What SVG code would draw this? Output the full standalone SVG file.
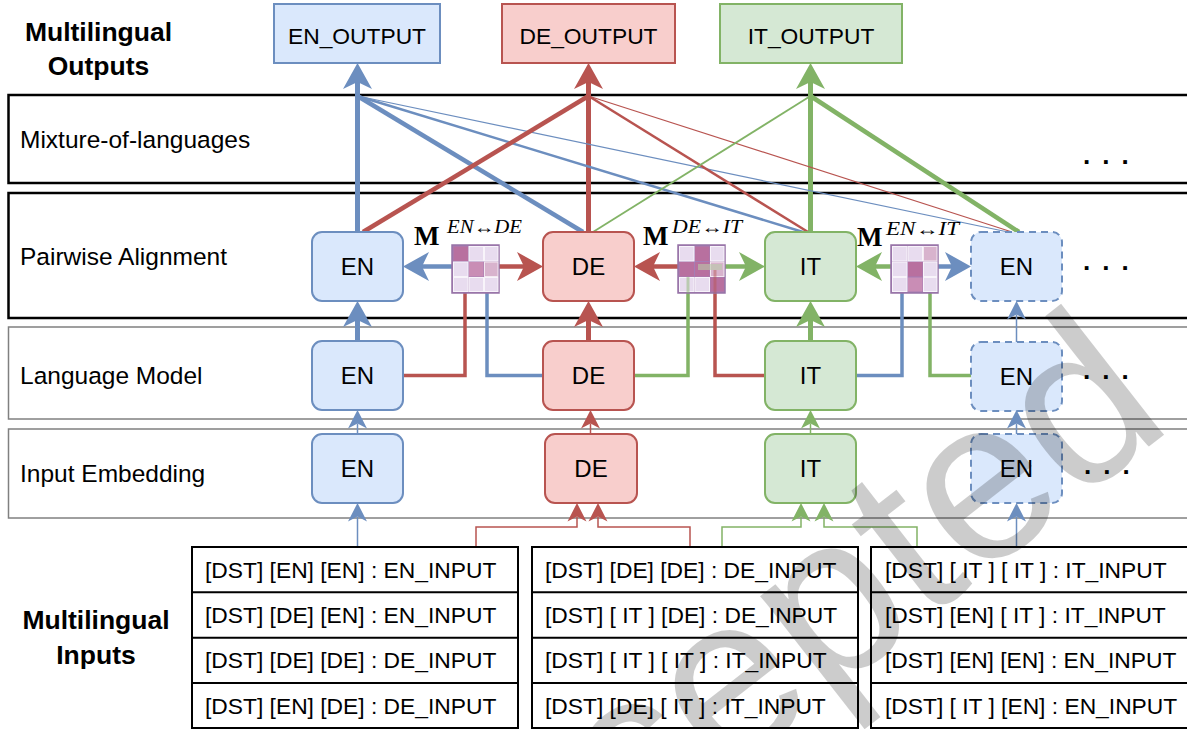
<svg xmlns="http://www.w3.org/2000/svg" width="1187" height="729" viewBox="0 0 1187 729">
<style>
text{font-family:"Liberation Sans",Arial,sans-serif;fill:#000}
.lbl{font-size:24.5px}
.ttl{font-size:26.5px;font-weight:bold;text-anchor:middle}
.nd{font-size:24px;text-anchor:middle}
.out{font-size:22.8px;text-anchor:middle}
.tb{font-size:22.8px}
.layer{fill:#fff;stroke:#000;stroke-width:2.5}
.layer2{fill:#fff;stroke:#808080;stroke-width:1.5}
.tbl{fill:#fff;stroke:#000;stroke-width:2}
.b{fill:#dae8fc;stroke:#6c8ebf;stroke-width:2}
.r{fill:#f8cecc;stroke:#b85450;stroke-width:2}
.g{fill:#d5e8d4;stroke:#82b366;stroke-width:2}
.dash{stroke-dasharray:7 5}
.lb{stroke:#6c8ebf;fill:none}
.lr{stroke:#b85450;fill:none}
.lg{stroke:#82b366;fill:none}
.w5{stroke-width:5}
.w45{stroke-width:4.5}
.w35{stroke-width:3.5}
.w15{stroke-width:1.5}
.mbg{fill:#a57db5;stroke:#9673a6;stroke-width:1.5}
.cL{fill:#e8dcef;stroke:#f8f4fa;stroke-width:1}
.cD{fill:#b8709f}
.cM{fill:#c98db5}
.cS{fill:#d8b3cd;stroke:#f3e9f1;stroke-width:1}
.dots{font-size:26px;font-weight:bold;letter-spacing:12px}
.M{font-family:"Liberation Serif","DejaVu Serif",serif;font-weight:bold;font-size:27px}
.sup{font-family:"Liberation Serif","DejaVu Serif",serif;font-style:italic;font-size:18px}
.wm{font-size:230px;fill:#000;fill-opacity:0.2}
</style>
<defs>
<marker id="bigB" markerUnits="userSpaceOnUse" markerWidth="27" markerHeight="30" viewBox="0 0 27 30" refX="7" refY="15" orient="auto"><path d="M0,0.5 L26,15 L0,29.5 L7,15 Z" fill="#6c8ebf"/></marker>
<marker id="bigR" markerUnits="userSpaceOnUse" markerWidth="27" markerHeight="30" viewBox="0 0 27 30" refX="7" refY="15" orient="auto"><path d="M0,0.5 L26,15 L0,29.5 L7,15 Z" fill="#b85450"/></marker>
<marker id="bigG" markerUnits="userSpaceOnUse" markerWidth="27" markerHeight="30" viewBox="0 0 27 30" refX="7" refY="15" orient="auto"><path d="M0,0.5 L26,15 L0,29.5 L7,15 Z" fill="#82b366"/></marker>
<marker id="smB" markerUnits="userSpaceOnUse" markerWidth="19" markerHeight="20" viewBox="0 0 19 20" refX="5" refY="10" orient="auto"><path d="M0,0.5 L18.5,10 L0,19.5 L5,10 Z" fill="#6c8ebf"/></marker>
<marker id="smR" markerUnits="userSpaceOnUse" markerWidth="19" markerHeight="20" viewBox="0 0 19 20" refX="5" refY="10" orient="auto"><path d="M0,0.5 L18.5,10 L0,19.5 L5,10 Z" fill="#b85450"/></marker>
<marker id="smG" markerUnits="userSpaceOnUse" markerWidth="19" markerHeight="20" viewBox="0 0 19 20" refX="5" refY="10" orient="auto"><path d="M0,0.5 L18.5,10 L0,19.5 L5,10 Z" fill="#82b366"/></marker>
</defs>
<rect width="1187" height="729" fill="#fff"/>

<g id="layers">
<rect class="layer" x="8.5" y="95" width="1190" height="88"/>
<rect class="layer" x="8.5" y="193" width="1190" height="125"/>
<rect class="layer2" x="8.5" y="327" width="1190" height="92"/>
<rect class="layer2" x="8.5" y="429" width="1190" height="89"/>
<text class="lbl" x="20" y="148">Mixture-of-languages</text>
<text class="lbl" x="20" y="265">Pairwise Alignment</text>
<text class="lbl" x="20" y="384">Language Model</text>
<text class="lbl" x="20" y="482">Input Embedding</text>
<text class="dots" x="1083" y="164">...</text>
<text class="dots" x="1083" y="270">...</text>
<text class="dots" x="1083" y="379">...</text>
<text class="dots" x="1084" y="474">...</text>
</g>

<g id="titles">
<text class="ttl" x="98.5" y="41">Multilingual</text>
<text class="ttl" x="98.5" y="75">Outputs</text>
<text class="ttl" x="96" y="629">Multilingual</text>
<text class="ttl" x="96" y="664">Inputs</text>
</g>

<g id="connectors">
<path class="lb w5" d="M357.5,232 V82" marker-end="url(#bigB)"/>
<path class="lr w5" d="M588.5,232 V82" marker-end="url(#bigR)"/>
<path class="lg w5" d="M810.5,232 V82" marker-end="url(#bigG)"/>
<path class="lb" stroke-width="4.5" d="M357.5,96 L583,232"/>
<path class="lb" stroke-width="2.5" d="M357.5,96 L803,232"/>
<path class="lb" stroke-width="1.2" d="M357.5,96 L1008,232"/>
<path class="lr" stroke-width="4.5" d="M588.5,96 L363,232"/>
<path class="lr" stroke-width="2.5" d="M588.5,96 L808,232"/>
<path class="lr" stroke-width="1.2" d="M588.5,96 L1012,232"/>
<path class="lg" stroke-width="1.8" d="M810.5,96 L593,232"/>
<path class="lg" stroke-width="4.5" d="M810.5,96 L1019,232"/>
<path class="lb w45" d="M452,266.5 H422" marker-end="url(#bigB)"/>
<path class="lr w45" d="M499,266.5 H524" marker-end="url(#bigR)"/>
<path class="lr w45" d="M678,266.5 H653" marker-end="url(#bigR)"/>
<path class="lg w45" d="M725,266.5 H746" marker-end="url(#bigG)"/>
<path class="lg w45" d="M891,266.5 H875" marker-end="url(#bigG)"/>
<path class="lb w45" d="M938,266.5 H952" marker-end="url(#bigB)"/>
<path class="lr w35" d="M403,375.5 H465 V293"/>
<path class="lb w35" d="M487,293 V375.5 H543"/>
<path class="lg w35" d="M634,375.5 H688 V293"/>
<path class="lr w35" d="M715,293 V375.5 H765"/>
<path class="lb w35" d="M856,375.5 H902 V293"/>
<path class="lg w35" d="M930,293 V375.5 H971"/>
<path class="lb w5" d="M357.5,341 V320" marker-end="url(#bigB)"/>
<path class="lr w5" d="M588.5,341 V320" marker-end="url(#bigR)"/>
<path class="lg w5" d="M810.5,341 V320" marker-end="url(#bigG)"/>
<path class="lb w15" d="M1016.5,342 V314.5" marker-end="url(#smB)"/>
<path class="lb w15" d="M357.5,434 V423.5" marker-end="url(#smB)"/>
<path class="lr w15" d="M590.5,434 V423.5" marker-end="url(#smR)"/>
<path class="lg w15" d="M810.5,434 V423.5" marker-end="url(#smG)"/>
<path class="lb w15" d="M1016.5,434 V423.5" marker-end="url(#smB)"/>
<path class="lb w15" d="M357.5,547 V516.5" marker-end="url(#smB)"/>
<path class="lr w15" d="M476,547 V527 H577 V516.5" marker-end="url(#smR)"/>
<path class="lr w15" d="M690,547 V527 H598 V516.5" marker-end="url(#smR)"/>
<path class="lg w15" d="M722,547 V527 H801 V516.5" marker-end="url(#smG)"/>
<path class="lg w15" d="M917,547 V527 H824 V516.5" marker-end="url(#smG)"/>
<path class="lb w15" d="M1016.5,547 V516.5" marker-end="url(#smB)"/>
</g>

<g id="out-en"><rect class="b" x="274" y="4" width="166" height="59"/><text class="out" x="357" y="44">EN_OUTPUT</text></g>
<g id="out-de"><rect class="r" x="502" y="4" width="173" height="59"/><text class="out" x="588.5" y="44">DE_OUTPUT</text></g>
<g id="out-it"><rect class="g" x="720" y="4" width="182" height="59"/><text class="out" x="811" y="44">IT_OUTPUT</text></g>

<g id="pa-en"><rect class="b" x="312" y="232" width="91" height="69" rx="10"/><text class="nd" x="357.5" y="275">EN</text></g>
<g id="pa-de"><rect class="r" x="543" y="232" width="91" height="69" rx="10"/><text class="nd" x="588.5" y="275">DE</text></g>
<g id="pa-it"><rect class="g" x="765" y="232" width="91" height="69" rx="10"/><text class="nd" x="810.5" y="275">IT</text></g>
<g id="pa-en2"><rect class="b dash" x="971" y="232" width="91" height="69" rx="10"/><text class="nd" x="1016.5" y="275">EN</text></g>

<g id="lm-en"><rect class="b" x="312" y="341" width="91" height="69" rx="10"/><text class="nd" x="357.5" y="384">EN</text></g>
<g id="lm-de"><rect class="r" x="543" y="341" width="91" height="69" rx="10"/><text class="nd" x="588.5" y="384">DE</text></g>
<g id="lm-it"><rect class="g" x="765" y="341" width="91" height="69" rx="10"/><text class="nd" x="810.5" y="384">IT</text></g>
<g id="lm-en2"><rect class="b dash" x="971" y="342" width="91" height="69" rx="10"/><text class="nd" x="1016.5" y="385">EN</text></g>

<g id="ie-en"><rect class="b" x="312" y="434" width="91" height="69" rx="10"/><text class="nd" x="357.5" y="477">EN</text></g>
<g id="ie-de"><rect class="r" x="545" y="434" width="92" height="69" rx="10"/><text class="nd" x="591" y="477">DE</text></g>
<g id="ie-it"><rect class="g" x="765" y="434" width="91" height="69" rx="10"/><text class="nd" x="810.5" y="477">IT</text></g>
<g id="ie-en2"><rect class="b dash" x="971" y="434" width="91" height="69" rx="10"/><text class="nd" x="1016.5" y="477">EN</text></g>

<g id="m-en-de">
<rect class="mbg" x="452" y="245" width="47" height="48"/>
<rect class="cD" x="453.5" y="246.5" width="14.5" height="14.5"/>
<rect class="cL" x="469" y="246.5" width="14.5" height="14.5"/>
<rect class="cL" x="484.5" y="246.5" width="13.5" height="14.5"/>
<rect class="cL" x="453.5" y="262" width="14.5" height="14.5"/>
<rect class="cM" x="469" y="262" width="14.5" height="14.5"/>
<rect class="cS" x="484.5" y="262" width="13.5" height="14.5"/>
<rect class="cL" x="453.5" y="277.5" width="14.5" height="14"/>
<rect class="cL" x="469" y="277.5" width="14.5" height="14"/>
<rect class="cL" x="484.5" y="277.5" width="13.5" height="14"/>
<text class="M" x="414" y="245">M</text><text class="sup" x="447" y="233" textLength="75" lengthAdjust="spacingAndGlyphs">EN↔DE</text>
</g>
<g id="m-de-it">
<rect class="mbg" x="678" y="245" width="47" height="48"/>
<rect class="cL" x="679.5" y="246.5" width="14.5" height="14.5"/>
<rect class="cD" x="695" y="246.5" width="14.5" height="14.5"/>
<rect class="cL" x="710.5" y="246.5" width="13.5" height="14.5"/>
<rect class="cD" x="679.5" y="262" width="14.5" height="14.5"/>
<rect class="cD" x="695" y="262" width="14.5" height="14.5"/>
<rect class="cS" x="710.5" y="262" width="13.5" height="14.5"/>
<rect class="cL" x="679.5" y="277.5" width="14.5" height="14"/>
<rect class="cL" x="695" y="277.5" width="14.5" height="14"/>
<rect class="cD" x="710.5" y="277.5" width="13.5" height="14"/>
<rect x="698" y="264" width="24" height="6" fill="#b9c9a8" fill-opacity="0.6"/>
<path d="M688,293 V277" stroke="#82b366" stroke-width="3" stroke-opacity="0.45"/>
<path d="M715,293 V270" stroke="#b85450" stroke-width="3" stroke-opacity="0.45"/>
<text class="M" x="643" y="245">M</text><text class="sup" x="672" y="233" textLength="70" lengthAdjust="spacingAndGlyphs">DE↔IT</text>
</g>
<g id="m-en-it">
<rect class="mbg" x="891" y="245" width="47" height="48"/>
<rect class="cL" x="892.5" y="246.5" width="14.5" height="14.5"/>
<rect class="cL" x="908" y="246.5" width="14.5" height="14.5"/>
<rect class="cS" x="923.5" y="246.5" width="13.5" height="14.5"/>
<rect class="cL" x="892.5" y="262" width="14.5" height="14.5"/>
<rect class="cD" x="908" y="262" width="14.5" height="14.5"/>
<rect class="cL" x="923.5" y="262" width="13.5" height="14.5"/>
<rect class="cL" x="892.5" y="277.5" width="14.5" height="14"/>
<rect class="cM" x="908" y="277.5" width="14.5" height="14"/>
<rect class="cL" x="923.5" y="277.5" width="13.5" height="14"/>
<text class="M" x="857" y="246">M</text><text class="sup" x="886" y="235" textLength="73" lengthAdjust="spacingAndGlyphs">EN↔IT</text>
</g>

<g id="table-1">
<rect class="tbl" x="192" y="547" width="326" height="181"/>
<path d="M192,592.3 H518 M192,637.7 H518 M192,683 H518" stroke="#000" stroke-width="2"/>
<text class="tb" x="205" y="577.5">[DST] [EN] [EN] : EN_INPUT</text>
<text class="tb" x="205" y="623">[DST] [DE] [EN] : EN_INPUT</text>
<text class="tb" x="205" y="668">[DST] [DE] [DE] : DE_INPUT</text>
<text class="tb" x="205" y="713.5">[DST] [EN] [DE] : DE_INPUT</text>
</g>
<g id="table-2">
<rect class="tbl" x="532" y="547" width="326" height="181"/>
<path d="M532,592.3 H858 M532,637.7 H858 M532,683 H858" stroke="#000" stroke-width="2"/>
<text class="tb" x="545" y="577.5">[DST] [DE] [DE] : DE_INPUT</text>
<text class="tb" x="545" y="623">[DST] [ IT ] [DE] : DE_INPUT</text>
<text class="tb" x="545" y="668">[DST] [ IT ] [ IT ] : IT_INPUT</text>
<text class="tb" x="545" y="713.5">[DST] [DE] [ IT ] : IT_INPUT</text>
</g>
<g id="table-3">
<rect class="tbl" x="871" y="547" width="330" height="181"/>
<path d="M871,592.3 H1201 M871,637.7 H1201 M871,683 H1201" stroke="#000" stroke-width="2"/>
<text class="tb" x="885" y="577.5">[DST] [ IT ] [ IT ] : IT_INPUT</text>
<text class="tb" x="885" y="623">[DST] [EN] [ IT ] : IT_INPUT</text>
<text class="tb" x="885" y="668">[DST] [EN] [EN] : EN_INPUT</text>
<text class="tb" x="885" y="713.5">[DST] [ IT ] [EN] : EN_INPUT</text>
</g>

<g id="watermark">
<text class="wm" transform="translate(420,1016) rotate(-38)">Accepted</text>
</g>
</svg>
